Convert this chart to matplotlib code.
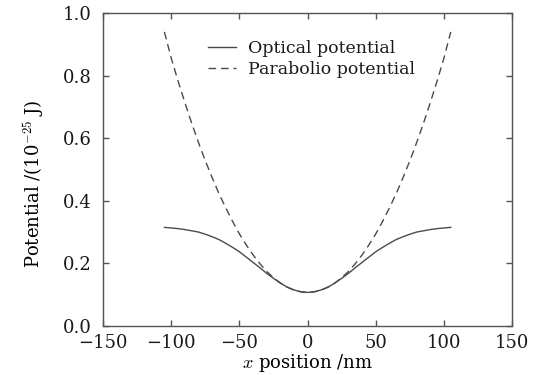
import matplotlib
matplotlib.use("Agg")
import matplotlib.pyplot as plt

# Sampled potential profiles across the trap (x in nm, potential in 1e-25 J)
x_nm = [-105, -100, -95, -90, -85, -80, -75, -70, -65, -60, -55, -50, -45, -40,
        -35, -30, -25, -20, -15, -10, -5, 0, 5, 10, 15, 20, 25, 30, 35, 40, 45,
        50, 55, 60, 65, 70, 75, 80, 85, 90, 95, 100, 105]

optical = [0.315, 0.313, 0.311, 0.308, 0.304, 0.300, 0.293, 0.285, 0.276, 0.264,
           0.251, 0.237, 0.220, 0.203, 0.186, 0.168, 0.152, 0.137, 0.124, 0.115,
           0.109, 0.107, 0.109, 0.115, 0.124, 0.137, 0.152, 0.168, 0.186, 0.203,
           0.220, 0.237, 0.251, 0.264, 0.276, 0.285, 0.293, 0.300, 0.304, 0.308,
           0.311, 0.313, 0.315]

parabolic = [0.940, 0.856, 0.783, 0.714, 0.648, 0.586, 0.528, 0.474, 0.423, 0.377,
             0.334, 0.294, 0.259, 0.227, 0.199, 0.174, 0.154, 0.137, 0.124, 0.114,
             0.109, 0.107, 0.109, 0.114, 0.124, 0.137, 0.154, 0.174, 0.199, 0.227,
             0.259, 0.294, 0.334, 0.377, 0.423, 0.474, 0.528, 0.586, 0.648, 0.714,
             0.783, 0.856, 0.940]

series_labels = ["Optical potential", "Parabolio potential"]
x_ticks = [-150, -100, -50, 0, 50, 100, 150]
y_ticks = [0.0, 0.2, 0.4, 0.6, 0.8, 1.0]

plt.rcParams["font.family"] = ["DejaVu Serif"]
plt.rcParams["mathtext.fontset"] = "cm"
plt.rcParams["font.size"] = 13
plt.rcParams["text.color"] = "#1a1a1a"

fig = plt.figure(figsize=(5.34, 3.75), dpi=100)
ax = fig.add_axes([0.193, 0.131, 0.766, 0.834])

line_color = "#4a4a4a"
ax.plot(x_nm, optical, color=line_color, lw=1.0, label=series_labels[0])
ax.plot(x_nm, parabolic, color=line_color, lw=1.0, dashes=(5.5, 3.5),
        label=series_labels[1])

ax.set_xlim(-150, 150)
ax.set_ylim(0.0, 1.0)
ax.set_xticks(x_ticks)
ax.set_yticks(y_ticks)
ax.set_yticklabels([f"{v:.1f}" for v in y_ticks])

for side in ax.spines.values():
    side.set_color("#555555")
    side.set_linewidth(1.0)
ax.tick_params(direction="in", length=4, width=1.0, color="#555555",
               top=True, right=True, labelcolor="#1a1a1a")
ax.tick_params(axis="y", pad=8)
ax.tick_params(axis="x", pad=6)

ax.set_xlabel(r"$\mathit{x}$ position /nm", labelpad=0)
ax.set_ylabel("Potential /(10$^{-25}$ J)")
ax.yaxis.set_label_coords(-0.140, 0.454)

ax.legend(loc="upper left", bbox_to_anchor=(0.228, 0.952), frameon=False,
          fontsize=12.5, handlelength=1.6, handletextpad=0.7,
          labelspacing=0.22, borderpad=0.2)

fig.savefig("out.png", dpi=100)
